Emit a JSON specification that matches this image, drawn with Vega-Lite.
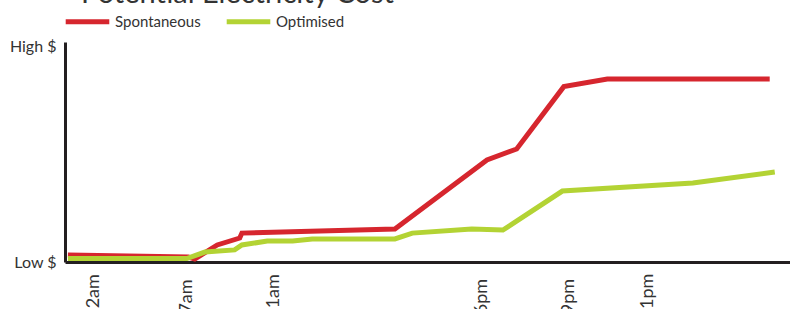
{
  "$schema": "https://vega.github.io/schema/vega-lite/v6.json",
  "autosize": "none",
  "width": 725,
  "height": 220,
  "padding": {"left": 65, "top": 42, "right": 0, "bottom": 47},
  "background": "white",
  "config": {"font": "Lato", "view": {"stroke": null}},
  "title": {"text": "Potential Electricity Cost", "anchor": "start", "frame": "group", "fontSize": 29, "fontWeight": "normal", "color": "#333333", "dx": 16, "offset": -12},
  "data": {"values": [
    {"series": "Spontaneous", "x": 0.4, "v": 3.2},
    {"series": "Spontaneous", "x": 17.0, "v": 2.3},
    {"series": "Spontaneous", "x": 17.9, "v": 1.4},
    {"series": "Spontaneous", "x": 21.0, "v": 7.9},
    {"series": "Spontaneous", "x": 24.1, "v": 11.1},
    {"series": "Spontaneous", "x": 24.4, "v": 13.4},
    {"series": "Spontaneous", "x": 45.5, "v": 15.3},
    {"series": "Spontaneous", "x": 58.2, "v": 47.3},
    {"series": "Spontaneous", "x": 62.3, "v": 52.4},
    {"series": "Spontaneous", "x": 68.8, "v": 81.3},
    {"series": "Spontaneous", "x": 74.8, "v": 84.8},
    {"series": "Spontaneous", "x": 97.2, "v": 84.8},
    {"series": "Optimised", "x": 0.4, "v": 1.6},
    {"series": "Optimised", "x": 16.8, "v": 1.6},
    {"series": "Optimised", "x": 19.3, "v": 4.6},
    {"series": "Optimised", "x": 23.4, "v": 5.6},
    {"series": "Optimised", "x": 24.4, "v": 7.9},
    {"series": "Optimised", "x": 27.9, "v": 9.7},
    {"series": "Optimised", "x": 31.4, "v": 9.7},
    {"series": "Optimised", "x": 34.1, "v": 10.7},
    {"series": "Optimised", "x": 45.5, "v": 10.7},
    {"series": "Optimised", "x": 47.9, "v": 13.4},
    {"series": "Optimised", "x": 56.1, "v": 15.3},
    {"series": "Optimised", "x": 60.4, "v": 14.8},
    {"series": "Optimised", "x": 68.6, "v": 32.9},
    {"series": "Optimised", "x": 86.6, "v": 36.6},
    {"series": "Optimised", "x": 97.9, "v": 41.7}
  ]},
  "mark": {"type": "line", "strokeWidth": 5, "strokeCap": "butt", "strokeJoin": "miter", "clip": false},
  "encoding": {
    "x": {"field": "x", "type": "quantitative", "scale": {"domain": [0, 100], "nice": false, "zero": false},
      "axis": {"title": null, "grid": false, "ticks": false, "domainColor": "#231f20", "domainWidth": 3,
        "values": [3.9, 16.8, 28.7, 57.5, 69.4, 80.4],
        "labelExpr": "datum.value == 3.9 ? '12am' : datum.value == 16.8 ? '7am' : datum.value == 28.7 ? '11am' : datum.value == 57.5 ? '6pm' : datum.value == 69.4 ? '9pm' : '11pm'",
        "labelAngle": 270, "labelAlign": "center", "labelBaseline": "middle", "labelPadding": 34, "labelFontSize": 18, "labelColor": "#333333", "labelOverlap": false, "labelBound": false, "labelFlush": false}},
    "y": {"field": "v", "type": "quantitative", "scale": {"domain": [0, 102], "nice": false},
      "axis": {"title": null, "grid": false, "ticks": false, "domainColor": "#231f20", "domainWidth": 3,
        "values": [0, 100], "labelExpr": "datum.value == 0 ? 'Low $' : 'High $'", "labelPadding": 9, "labelFontSize": 16, "labelColor": "#333333", "labelFlush": false}},
    "color": {"field": "series", "type": "nominal", "sort": ["Spontaneous", "Optimised"],
      "scale": {"domain": ["Spontaneous", "Optimised"], "range": ["#d6262e", "#b3d334"]},
      "legend": {"title": null, "orient": "none", "direction": "horizontal", "legendX": -2, "legendY": -45, "symbolType": "stroke", "symbolSize": 1900, "symbolStrokeWidth": 5, "labelFontSize": 15, "labelColor": "#333333", "labelOffset": 3, "columnPadding": 15, "padding": 0}}
  }
}
